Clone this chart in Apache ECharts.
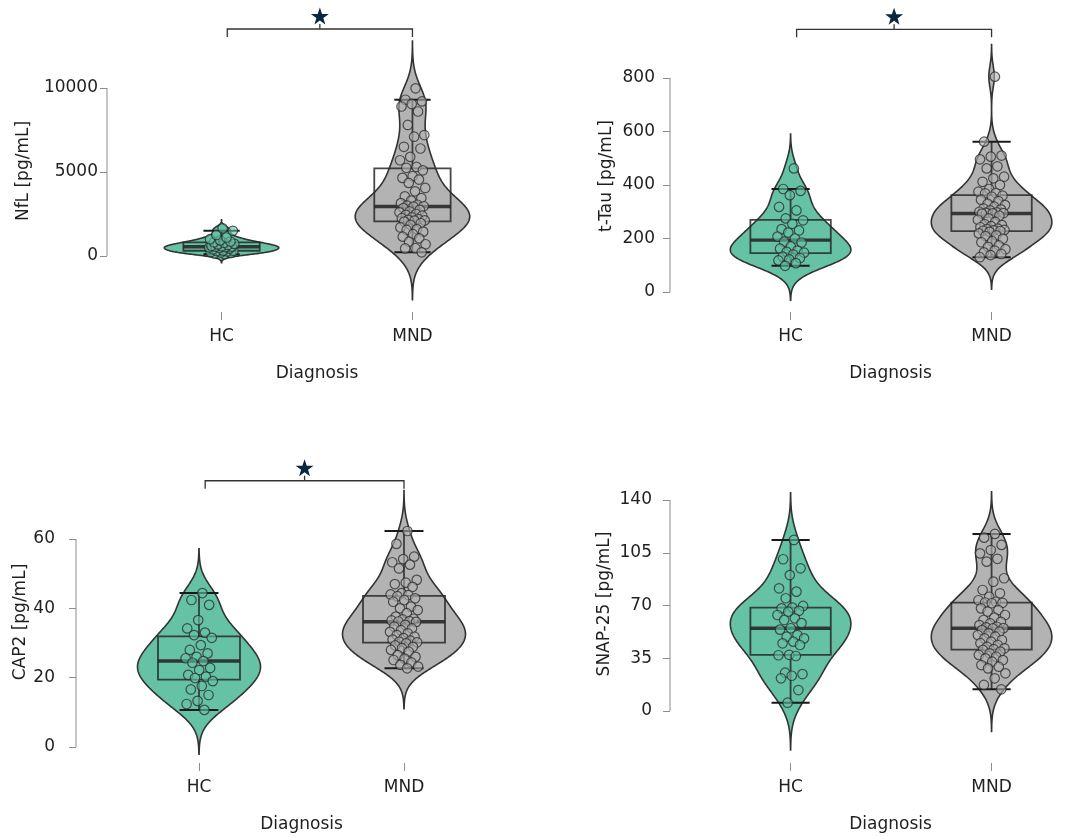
<!DOCTYPE html>
<html><head><meta charset="utf-8">
<script src="https://cdn.jsdelivr.net/npm/echarts@6/dist/echarts.min.js"></script>
<style>html,body{margin:0;padding:0;background:#fff}#c{width:1080px;height:837px}</style>
</head><body><div id="c"></div>
<script>
// ---------------- DATA ----------------
const groups = ['HC', 'MND'];
const xAxisName = 'Diagnosis';
const yNames = ['NfL [pg/mL]', 't-Tau [pg/mL]', 'CAP2 [pg/mL]', 'SNAP-25 [pg/mL]'];

const nflHC = [110, 150, 180, 210, 240, 270, 295, 310, 320, 400, 450, 490, 510, 530, 550, 560, 580, 610, 650, 690, 720, 790, 820, 860, 930, 1000, 1100, 1250, 1500, 1650];
const nflMND = [9980, 9300, 9200, 9050, 8900, 8600, 7800, 7200, 7100, 6500, 6400, 5900, 5700, 5300, 5250,
  5100, 4750, 4650, 4550, 4350, 4050, 3850, 3550, 3450, 3300, 3150, 3050, 3000, 2960,
  2940, 2850, 2750, 2650, 2600, 2500, 2450, 2400, 2300, 2250, 2200, 2150, 2120, 2100,
  2050, 1950, 1850, 1700, 1600, 1550, 1450, 1300, 1150, 1050, 850, 700, 460, 450, 220];

const tauHC = [462, 385, 378, 362, 318, 305, 275, 268, 255, 235, 230, 222, 207, 200, 188, 185, 170, 162, 155, 150, 147, 140, 132, 127, 122, 118, 108, 98];
const tauMND = [805, 562, 510, 506, 496, 470, 462, 431, 425, 412, 400, 385, 375, 370, 369,
  360, 356, 345, 340, 330, 325, 319, 312, 309, 305, 300, 298, 296, 295, 294,
  293, 285, 275, 270, 262, 254, 250, 246, 242, 237, 235, 232, 230, 229, 228,
  225, 219, 212, 209, 199, 190, 186, 174, 169, 160, 155, 148, 142, 138, 130];

const capHC = [44.4, 42.4, 41.0, 36.6, 34.2, 33.0, 32.3, 31.5, 29.4, 28.0, 27.0, 26.0, 25.6, 24.8,
  24.3, 22.8, 22.2, 20.8, 20.3, 19.9, 19.0, 17.6, 16.6, 15.0, 13.3, 12.4, 10.7];
const capMND = [62.3, 58.6, 54.9, 54.2, 53.3, 52.6, 51.5, 48.2, 47.4, 47.0, 46.2, 44.4, 44.0, 43.8,
  43.5, 42.9, 42.4, 41.9, 40.5, 40.0, 39.5, 38.6, 37.6, 37.0, 36.8, 36.5, 36.3, 36.2,
  36.1, 35.2, 34.7, 34.2, 33.7, 33.2, 32.8, 32.3, 31.8, 31.4, 31.0, 30.7, 30.4, 30.2,
  29.9, 29.3, 28.9, 28.5, 28.0, 27.5, 26.5, 26.0, 25.5, 25.1, 24.4, 23.7, 23.2, 22.7];

const snapHC = [113.5, 100.7, 94.7, 90.2, 81.4, 79.2, 74.8, 69.7, 68.6, 68.1, 66.5, 65.9, 63.7, 61.5, 60.4, 58.3,
  54.9, 54.0, 50.4, 49.3, 48.2, 46.0, 44.9, 43.8, 37.3, 37.0, 36.5, 25.4, 24.5, 23.4, 21.7, 13.9, 5.5];
const snapMND = [117.5, 115.0, 110.2, 106.8, 104.6, 101.0, 99.1, 88.1, 85.8, 80.3, 78.1, 75.8, 73.5, 72.5, 72.0,
  71.8, 71.5, 68.1, 67.0, 66.0, 63.7, 62.0, 60.4, 59.2, 58.2, 57.0, 55.9, 55.5, 55.0,
  54.8, 53.7, 52.6, 51.5, 50.4, 49.3, 48.2, 47.1, 46.0, 45.0, 43.8, 42.6, 41.6, 41.0,
  40.6, 39.4, 38.3, 37.2, 36.0, 34.9, 33.8, 32.7, 30.5, 29.4, 28.3, 25.0, 21.7, 17.3, 14.4];

const yTicks1 = [0, 5000, 10000];
const yTicks2 = [0, 200, 400, 600, 800];
const yTicks3 = [0, 20, 40, 60];
const yTicks4 = [0, 35, 70, 105, 140];

// significance brackets (null = none)
const bracketLevels = [13512, 982, 76.8, null];
const bracketFrom = 0.03, bracketTo = 1;

// ---------------- LAYOUT / STYLE ----------------
const panels = [
  { data: [nflHC, nflMND], ticks: yTicks1, name: yNames[0], bracket: bracketLevels[0],
    grid: { left: 107, top: 30, width: 420, height: 282 }, xMax: 1.6, namePad: 0,
    yMin: -3333, yMax: 13452, nameGap: 75, labelMargin: 9 },
  { data: [tauHC, tauMND], ticks: yTicks2, name: yNames[1], bracket: bracketLevels[1],
    grid: { left: 670, top: 40, width: 410, height: 272 }, xMax: 1.44, namePad: 31,
    yMin: -74.8, yMax: 942.1, nameGap: 55, labelMargin: 15 },
  { data: [capHC, capMND], ticks: yTicks3, name: yNames[2], bracket: bracketLevels[2],
    grid: { left: 76, top: 481, width: 451, height: 282 }, xMax: 1.6, namePad: 0,
    yMin: -4.615, yMax: 76.73, nameGap: 43, labelMargin: 21 },
  { data: [snapHC, snapMND], ticks: yTicks4, name: yNames[3], bracket: bracketLevels[3],
    grid: { left: 670, top: 445, width: 410, height: 318 }, xMax: 1.44, namePad: 31,
    yMin: -34.5, yMax: 176.5, nameGap: 57, labelMargin: 18 }
];
const X_MIN = -0.6;
const VIOLIN_HW = 0.3, BOX_HW = 0.2, CAP_HW = 0.095, JITTER = 0.14;
const fills = ['#66C2A5', '#B3B3B3'];
const pointFills = ['rgba(102,194,165,0.6)', 'rgba(179,179,179,0.6)'];
const FONT = 'DejaVu Sans, Verdana, sans-serif';
const TEXT = '#1f1f1f';
const AXIS_GRAY = '#8c8c8c';
const STAR = 'path://M50,0 L61.8,35.1 L98.6,35.1 L68.8,56.7 L79.4,91.2 L50,69.8 L20.6,91.2 L31.2,56.7 L1.4,35.1 L38.2,35.1 Z';

// ---------------- STATS ----------------
function quantile(s, p) { const h = (s.length - 1) * p, lo = Math.floor(h), hi = Math.ceil(h); return s[lo] + (h - lo) * (s[hi] - s[lo]); }
function boxStats(vals) {
  const s = [...vals].sort((a, b) => a - b);
  const q1 = quantile(s, 0.25), med = quantile(s, 0.5), q3 = quantile(s, 0.75), iqr = q3 - q1;
  const lo = s.find(v => v >= q1 - 1.5 * iqr);
  const hi = [...s].reverse().find(v => v <= q3 + 1.5 * iqr);
  return [lo, q1, med, q3, hi];
}
function kde(vals) {
  const s = [...vals].sort((a, b) => a - b), n = s.length;
  const mean = s.reduce((a, b) => a + b, 0) / n;
  const sd = Math.sqrt(s.reduce((a, b) => a + (b - mean) * (b - mean), 0) / (n - 1));
  const iqr = quantile(s, 0.75) - quantile(s, 0.25);
  const bw = 0.9 * Math.min(sd, iqr / 1.34) * Math.pow(n, -0.2);
  const from = s[0] - 3 * bw, to = s[n - 1] + 3 * bw, N = 240;
  const out = [];
  for (let i = 0; i <= N; i++) {
    const y = from + (to - from) * i / N; let d = 0;
    for (const v of s) { const z = (y - v) / bw; d += Math.exp(-0.5 * z * z); }
    out.push([y, d]);
  }
  const mx = Math.max(...out.map(p => p[1]));
  return out.map(p => [p[0], p[1] / mx]);
}

// ---------------- OPTION ----------------
const grids = [], xAxes = [], yAxes = [], series = [];
panels.forEach((P, i) => {
  grids.push(Object.assign({ containLabel: false }, P.grid));
  xAxes.push({
    gridIndex: i, type: 'value', min: X_MIN, max: P.xMax, position: 'bottom',
    axisLine: { show: false, onZero: false }, splitLine: { show: false },
    axisTick: { show: true, customValues: [0, 1], length: 8, lineStyle: { color: AXIS_GRAY, width: 1 } },
    axisLabel: { customValues: [0, 1], formatter: v => groups[Math.round(v)], margin: 16, fontSize: 17, color: TEXT, fontFamily: FONT },
    name: xAxisName, nameLocation: 'middle', nameGap: 53,
    nameTextStyle: { fontSize: 17, color: TEXT, fontFamily: FONT, padding: [0, 0, 0, P.namePad] }
  });
  yAxes.push({
    gridIndex: i, type: 'value', min: P.yMin, max: P.yMax, position: 'left',
    axisLine: { show: false, onZero: false }, splitLine: { show: false },
    axisTick: { show: true, customValues: P.ticks, length: 7, lineStyle: { color: AXIS_GRAY, width: 1 } },
    axisLabel: { customValues: P.ticks, formatter: v => String(v), margin: P.labelMargin, fontSize: 17, color: TEXT, fontFamily: FONT },
    name: P.name, nameLocation: 'middle', nameGap: P.nameGap, nameRotate: 90,
    nameTextStyle: { fontSize: 17, color: TEXT, fontFamily: FONT }
  });

  const profiles = P.data.map(kde);
  const stats = P.data.map(boxStats);

  // y axis line from first to last tick
  series.push({
    type: 'line', xAxisIndex: i, yAxisIndex: i, symbol: 'none', silent: true, clip: false,
    lineStyle: { color: AXIS_GRAY, width: 1 },
    data: [[X_MIN, P.ticks[0]], [X_MIN, P.ticks[P.ticks.length - 1]]], z: 1
  });

  // violins
  series.push({
    type: 'custom', xAxisIndex: i, yAxisIndex: i, clip: false, silent: true, z: 2,
    data: groups.map((g, gi) => [gi, stats[gi][2]]),
    encode: { x: 0, y: 1 },
    renderItem: (params, api) => {
      const gi = api.value(0);
      const prof = profiles[gi];
      const right = prof.map(([y, d]) => api.coord([gi + d * VIOLIN_HW, y]));
      const left = prof.slice().reverse().map(([y, d]) => api.coord([gi - d * VIOLIN_HW, y]));
      return { type: 'polygon', shape: { points: right.concat(left) },
        style: { fill: fills[gi], stroke: '#333', lineWidth: 1.6 } };
    }
  });

  // box plots
  series.push({
    type: 'custom', xAxisIndex: i, yAxisIndex: i, clip: false, silent: true, z: 3,
    data: groups.map((g, gi) => [gi].concat(stats[gi])),
    encode: { x: 0, y: [1, 2, 3, 4, 5] },
    renderItem: (params, api) => {
      const gi = api.value(0);
      const lo = api.value(1), q1 = api.value(2), med = api.value(3), q3 = api.value(4), hi = api.value(5);
      const tl = api.coord([gi - BOX_HW, q3]), br = api.coord([gi + BOX_HW, q1]);
      const c = api.coord([gi, med]);
      const pLo = api.coord([gi, lo]), pHi = api.coord([gi, hi]);
      const capL = api.coord([gi - CAP_HW, lo])[0], capR = api.coord([gi + CAP_HW, lo])[0];
      const st = { stroke: 'rgba(40,40,40,0.85)', lineWidth: 1.8, fill: null };
      return { type: 'group', children: [
        { type: 'line', shape: { x1: pHi[0], y1: pHi[1], x2: pHi[0], y2: tl[1] }, style: st },
        { type: 'line', shape: { x1: pLo[0], y1: br[1], x2: pLo[0], y2: pLo[1] }, style: st },
        { type: 'rect', shape: { x: tl[0], y: tl[1], width: br[0] - tl[0], height: br[1] - tl[1] }, style: st },
        { type: 'line', shape: { x1: tl[0], y1: c[1], x2: br[0], y2: c[1] }, style: { stroke: 'rgba(40,40,40,0.9)', lineWidth: 3.4 } },
        { type: 'line', shape: { x1: capL, y1: pHi[1], x2: capR, y2: pHi[1] }, style: { stroke: '#1a1a1a', lineWidth: 2 } },
        { type: 'line', shape: { x1: capL, y1: pLo[1], x2: capR, y2: pLo[1] }, style: { stroke: '#1a1a1a', lineWidth: 2 } }
      ] };
    }
  });

  // jittered points
  groups.forEach((g, gi) => {
    series.push({
      type: 'scatter', xAxisIndex: i, yAxisIndex: i, silent: true, z: 4, clip: false,
      symbol: 'circle', symbolSize: 9.5,
      itemStyle: { color: pointFills[gi], borderColor: 'rgba(40,40,40,0.75)', borderWidth: 1.2, opacity: 1 },
      data: P.data[gi].map((v, k) => [gi + (((k + 1) * 0.6180339887) % 1 - 0.5) * JITTER, v])
    });
  });

  // significance bracket + star
  if (P.bracket != null) {
    series.push({
      type: 'custom', xAxisIndex: i, yAxisIndex: i, clip: false, silent: true, z: 5,
      data: [[bracketFrom, bracketTo, P.bracket]],
      encode: { x: [0, 1], y: 2 },
      renderItem: (params, api) => {
        const a = api.coord([api.value(0), api.value(2)]), b = api.coord([api.value(1), api.value(2)]);
        const mx = (a[0] + b[0]) / 2;
        return { type: 'group', children: [
          { type: 'polyline', shape: { points: [[a[0], a[1] + 8], a, b, [b[0], b[1] + 8]] }, style: { stroke: '#333', lineWidth: 1.3, fill: null } },
          { type: 'line', shape: { x1: mx, y1: a[1], x2: mx, y2: a[1] - 5 }, style: { stroke: '#333', lineWidth: 1.3 } }
        ] };
      }
    });
    series.push({
      type: 'scatter', xAxisIndex: i, yAxisIndex: i, silent: true, clip: false, z: 5,
      symbol: STAR, symbolSize: [18, 17], symbolOffset: [0, -13],
      itemStyle: { color: '#0b2740', opacity: 1 },
      data: [[(bracketFrom + bracketTo) / 2, P.bracket]]
    });
  }
});

const chart = echarts.init(document.getElementById('c'), null, { renderer: 'canvas' });
chart.setOption({
  animation: false, backgroundColor: '#ffffff',
  textStyle: { fontFamily: FONT },
  grid: grids, xAxis: xAxes, yAxis: yAxes, series: series
});
</script>
</body></html>
